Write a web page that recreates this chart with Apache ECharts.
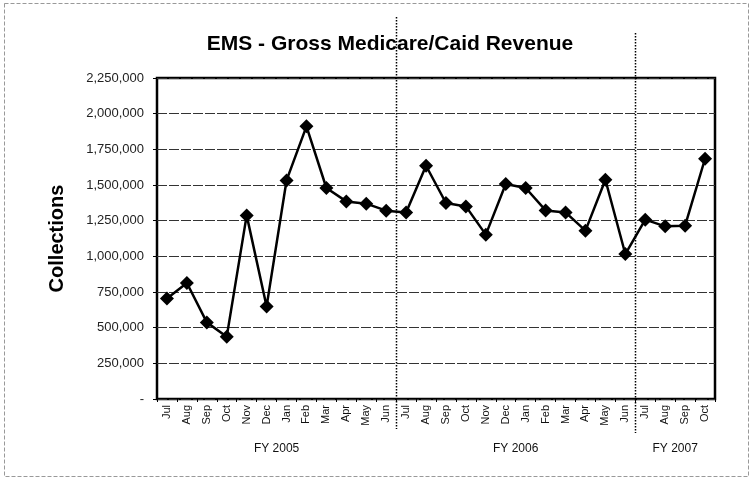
<!DOCTYPE html>
<html>
<head>
<meta charset="utf-8">
<script src="https://cdn.jsdelivr.net/npm/echarts@6/dist/echarts.min.js"></script>
<style>
    html, body { margin: 0; padding: 0; background: #fff; }
    #chart { width: 752px; height: 478px; }
</style>
</head>
<body>
<div id="chart"></div>
<script>
const months = ['Jul', 'Aug', 'Sep', 'Oct', 'Nov', 'Dec', 'Jan', 'Feb', 'Mar', 'Apr', 'May', 'Jun',
    'Jul', 'Aug', 'Sep', 'Oct', 'Nov', 'Dec', 'Jan', 'Feb', 'Mar', 'Apr', 'May', 'Jun',
    'Jul', 'Aug', 'Sep', 'Oct'];
const collections = [705000, 813000, 537000, 437000, 1287000, 649000, 1532000, 1911000, 1479000, 1385000, 1369000, 1320000,
    1308000, 1635000, 1374000, 1350000, 1152000, 1507000, 1479000, 1322000, 1308000, 1180000, 1537000, 1016000,
    1257000, 1210000, 1215000, 1684000];
const fiscalYears = ['FY 2005', 'FY 2006', 'FY 2007'];
const fyCenters = [6, 18, 26];     // middle of each fiscal year, in month units
const fyBreaks = [12, 24];         // boundaries between fiscal years

const chart = echarts.init(document.getElementById('chart'));
const font = 'Liberation Sans, Arial, sans-serif';

const option = {
    animation: false,
    textStyle: {fontFamily: font},
    title: {
        text: 'EMS - Gross Medicare/Caid Revenue',
        left: 385,
        textAlign: 'center',
        top: 29,
        textStyle: {fontSize: 21, fontWeight: 'bold', color: '#000', fontFamily: font},
    },
    grid: {
        left: 157, right: 37, top: 78, bottom: 79,
        show: true,
        borderColor: '#000',
        borderWidth: 2.5,
    },
    xAxis: [
        {
            type: 'category',
            data: months,
            boundaryGap: true,
            axisLine: {show: false},
            axisTick: {show: true, length: 3, lineStyle: {color: '#000'}},
            axisLabel: {rotate: 90, fontSize: 11, color: '#111', margin: 6, interval: 0},
        },
        {
            type: 'value',
            position: 'bottom',
            min: 0,
            max: months.length,
            axisLine: {show: false},
            axisTick: {show: false},
            splitLine: {show: false},
            axisLabel: {
                customValues: fyCenters,
                margin: 44,
                fontSize: 12,
                color: '#111',
                formatter: (v) => fiscalYears[fyCenters.indexOf(v)] || '',
            },
        },
    ],
    yAxis: {
        type: 'value',
        min: 0,
        max: 2250000,
        interval: 250000,
        name: 'Collections',
        nameLocation: 'middle',
        nameGap: 90,
        nameTextStyle: {fontSize: 20, fontWeight: 'bold', color: '#000'},
        axisLine: {show: false},
        axisTick: {show: true, length: 4, lineStyle: {color: '#000'}},
        axisLabel: {
            fontSize: 13, color: '#222', margin: 13,
            formatter: (v) => (v === 0 ? '-' : v.toLocaleString('en-US')),
        },
        splitLine: {lineStyle: {color: '#333', width: 1, type: [10, 2]}},
    },
    series: [
        {
            type: 'line',
            data: collections,
            symbol: 'diamond',
            symbolSize: 14,
            lineStyle: {color: '#000', width: 2.5},
            itemStyle: {color: '#000'},
            z: 5,
        },
    ],
};

chart.setOption(option);

// fiscal year dividers extend above and below the plot area
const tops = [17, 33];
const bottoms = [429, 433];
const lines = fyBreaks.map((b, i) => {
    const x = Math.round(chart.convertToPixel({xAxisIndex: 1}, b)) + 0.5;
    return {
        type: 'line',
        shape: {x1: x, y1: tops[i], x2: x, y2: bottoms[i]},
        style: {stroke: '#000', lineWidth: 1.5, lineDash: [1.5, 1.5]},
        z: 10,
    };
});

chart.setOption({
    graphic: [
        {
            type: 'rect',
            shape: {x: 4.5, y: 3.5, width: 744, height: 473},
            style: {fill: 'none', stroke: '#999', lineWidth: 1, lineDash: [4, 2]},
            silent: true,
        },
        ...lines,
    ],
});
</script>
</body>
</html>
